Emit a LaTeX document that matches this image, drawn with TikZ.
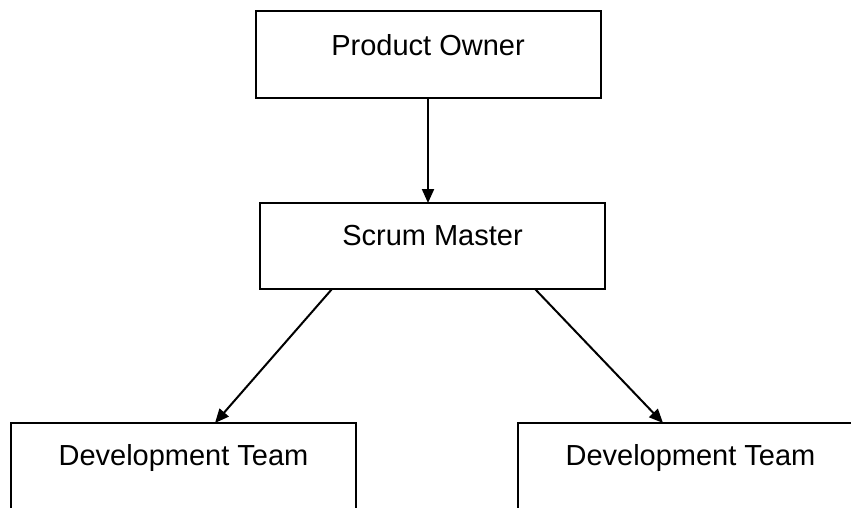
\documentclass[tikz,border=0pt]{standalone}
\usepackage{fontspec}
\setmainfont{Liberation Sans}
\usetikzlibrary{arrows.meta}
\begin{document}
\begin{tikzpicture}[x=1pt,y=-1pt,
  rolebox/.style={draw=black,line width=2pt,rectangle,inner sep=0pt,outer sep=0pt,
    minimum width=345pt,minimum height=#1},
  rolebox/.default=87pt,
  roletext/.style={anchor=base,inner sep=0pt,font=\fontsize{29pt}{34pt}\selectfont},
  link/.style={line width=2pt,-{Triangle[length=14pt,width=12pt]}}]
  \useasboundingbox (0,0) rectangle (851,507);
  \clip (0,0) rectangle (851,507);

  % boxes
  \node[rolebox] (po) at (428,54.5) {};
  \node[rolebox=86pt] (sm) at (432.5,246) {};
  \node[rolebox=120pt] (dl) at (183.5,483) {};
  \node[rolebox=120pt] (dr) at (690.5,483) {};

  % labels
  \node[roletext] (pot) at ([yshift=-44pt]po.north) {Product Owner};
  \node[roletext] (smt) at ([yshift=-42pt]sm.north) {Scrum Master};
  \node[roletext] (dlt) at ([yshift=-42pt]dl.north) {Development Team};
  \node[roletext] (drt) at ([yshift=-42pt]dr.north) {Development Team};

  % reporting lines
  \draw[link] (po.south) -- (po.south |- sm.north);
  \draw[link] ([xshift=72pt]sm.south west) -- ([xshift=204pt]dl.north west);
  \draw[link] ([xshift=275pt]sm.south west) -- ([xshift=145pt]dr.north west);
\end{tikzpicture}
\end{document}
